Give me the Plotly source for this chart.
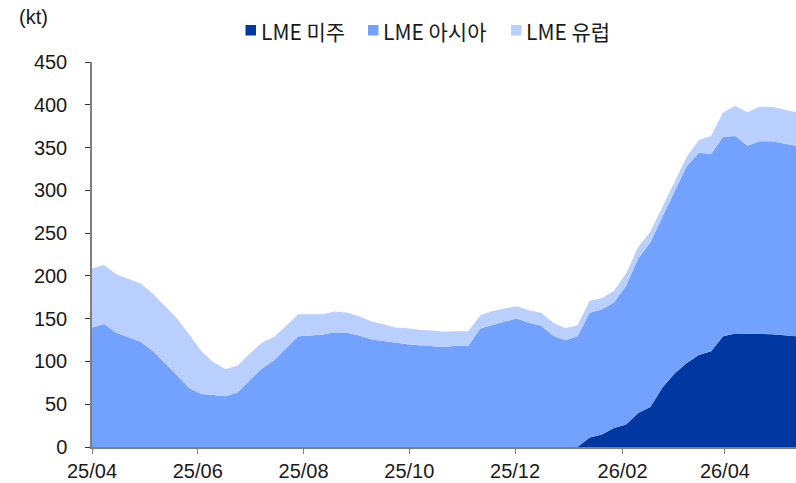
import pandas as pd
import plotly.graph_objects as go

# Weekly LME aluminium stocks by region (kt)
dates = pd.date_range("2025-04-01", periods=59, freq="7D")

americas = [0, 0, 0, 0, 0, 0, 0, 0, 0, 0,
            0, 0, 0, 0, 0, 0, 0, 0, 0, 0,
            0, 0, 0, 0, 0, 0, 0, 0, 0, 0,
            0, 0, 0, 0, 0, 0, 0, 0, 0, 0,
            0, 11.0, 14.5, 22.2, 26.2, 39.8, 46.8, 69.5, 85.9, 98.3,
            107.6, 112.0, 129.5, 132.7, 132.7, 132.2, 131.9, 130.7, 129.5]

asia = [139.8, 143.9, 133.4, 128.0, 122.9, 112.3, 98.3, 83.9, 69.0, 62.0,
        60.8, 59.3, 64.0, 78.0, 91.7, 101.4, 115.1, 129.5, 130.3, 131.5,
        134.2, 133.4, 130.3, 126.0, 124.0, 121.7, 120.2, 119.0, 118.2, 117.0,
        118.2, 118.2, 138.5, 142.7, 146.7, 150.2, 145.1, 141.6, 129.9, 124.8,
        129.5, 145.8, 146.3, 146.7, 162.2, 180.6, 192.3, 199.6, 212.4, 230.1,
        236.4, 230.5, 233.2, 230.8, 219.5, 225.1, 225.4, 224.3, 222.7]

europe = [68.9, 68.7, 68.6, 68.2, 68.3, 67.2, 66.3, 66.3, 62.9, 50.3,
          38.3, 32.0, 31.2, 31.3, 30.4, 27.3, 26.5, 25.8, 25.0, 23.8,
          24.2, 23.8, 22.6, 21.0, 19.5, 18.0, 18.7, 17.9, 18.0, 17.6,
          17.2, 17.2, 15.6, 16.4, 15.2, 14.4, 14.8, 15.2, 15.2, 14.1,
          12.9, 14.0, 13.2, 13.6, 14.5, 13.6, 12.4, 11.7, 9.9, 10.9,
          14.8, 21.0, 28.5, 35.5, 39.0, 40.5, 40.5, 39.3, 39.0]

series_names = ["LME 미주", "LME 아시아", "LME 유럽"]
series_values = [americas, asia, europe]
colors = ["#0037a0", "#72a2fe", "#b9d0fe"]

y_ticks = [0, 50, 100, 150, 200, 250, 300, 350, 400, 450]

num_font = "Liberation Sans Narrow, Arial Narrow, sans-serif"
legend_font = "Liberation Sans Narrow, Noto Sans CJK KR, sans-serif"

W, H = 796, 483
ML, MR, MT, MB = 92, 0, 62, 36
PW, PH = W - ML - MR, H - MT - MB


def px_x(p):
    return (p - ML) / PW


def px_y(p):
    return (H - MB - p) / PH


fig = go.Figure()

for name, vals, col in zip(series_names, series_values, colors):
    fig.add_trace(go.Scatter(
        x=dates, y=vals, name=name, mode="lines",
        stackgroup="stock", line=dict(width=0, color=col),
        fillcolor=col, showlegend=False, hoverinfo="skip",
    ))

# legend row: small square swatch followed by the series name
legend_left = [245.5, 368, 511]
shapes, annotations = [], []
for left, name, col in zip(legend_left, series_names, colors):
    shapes.append(dict(
        type="rect", xref="paper", yref="paper",
        x0=px_x(left), x1=px_x(left + 10.5),
        y0=px_y(35.5), y1=px_y(25),
        fillcolor=col, line=dict(width=0),
    ))
    annotations.append(dict(
        text=name, xref="paper", yref="paper",
        x=px_x(left + 13), y=px_y(30.5),
        xanchor="left", yanchor="middle", showarrow=False,
        font=dict(family=legend_font, size=21, color="#1a1a1a"),
    ))

annotations.append(dict(
    text="(kt)", xref="paper", yref="paper", x=px_x(33), y=px_y(17),
    xanchor="center", yanchor="middle", showarrow=False,
    font=dict(family=num_font, size=20, color="#1a1a1a"),
))

fig.update_layout(
    width=W, height=H,
    margin=dict(l=ML, r=MR, t=MT, b=MB),
    paper_bgcolor="white", plot_bgcolor="white",
    font=dict(family=num_font, size=20, color="#1a1a1a"),
    showlegend=False,
    xaxis=dict(
        type="date", range=[dates[0], dates[-1]],
        tick0="2025-04-01", dtick="M2", tickformat="%y/%m",
        showgrid=False, zeroline=False,
        showline=True, linecolor="#7f7f7f", linewidth=1.5,
        ticks="outside", ticklen=5, tickcolor="#7f7f7f",
        tickfont=dict(family=num_font, size=20, color="#1a1a1a"),
    ),
    yaxis=dict(
        range=[0, 450], tickvals=y_ticks,
        showgrid=False, zeroline=False,
        showline=True, linecolor="#7f7f7f", linewidth=1.5,
        ticks="outside", ticklen=5, tickcolor="#333333",
        ticklabelstandoff=14,
        tickfont=dict(family=num_font, size=20, color="#1a1a1a"),
    ),
    shapes=shapes,
    annotations=annotations,
)

fig.write_html("out.html")
